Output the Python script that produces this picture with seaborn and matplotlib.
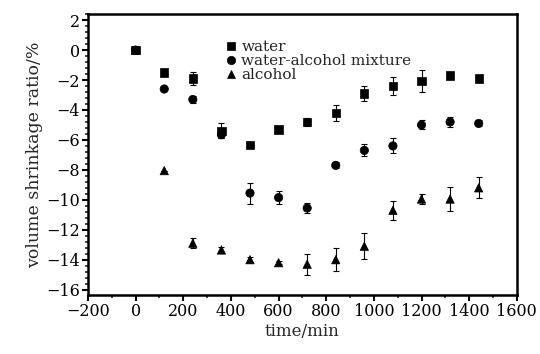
import numpy as np
import pandas as pd
import matplotlib
matplotlib.use("Agg")
import matplotlib.pyplot as plt
import seaborn as sns
from matplotlib.ticker import MultipleLocator

# --- data ---
time_min = [0, 120, 240, 360, 480, 600, 720, 840, 960, 1080, 1200, 1320, 1440]

water = [0, -1.5, -1.9, -5.4, -6.35, -5.3, -4.8, -4.2, -2.9, -2.4, -2.05, -1.7, -1.9]
water_err = [0, 0, 0.45, 0.5, 0.15, 0.25, 0.25, 0.55, 0.5, 0.6, 0.75, 0, 0.2]

mixture = [0, -2.6, -3.3, -5.65, -9.55, -9.85, -10.55, -7.7, -6.7, -6.4, -5.0, -4.8, -4.9]
mixture_err = [0, 0, 0.25, 0.2, 0.7, 0.45, 0.35, 0.2, 0.4, 0.5, 0.3, 0.35, 0.2]

alcohol = [0, -8.05, -12.9, -13.35, -14.0, -14.2, -14.3, -14.0, -13.1, -10.7, -9.95, -9.95, -9.2]
alcohol_err = [0, 0, 0.35, 0.2, 0.15, 0.1, 0.7, 0.75, 0.85, 0.65, 0.35, 0.8, 0.7]

series = {
    "water": (water, water_err, "s"),
    "water-alcohol mixture": (mixture, mixture_err, "o"),
    "alcohol": (alcohol, alcohol_err, "^"),
}

rows = []
for name, (vals, errs, _) in series.items():
    for t, v, e in zip(time_min, vals, errs):
        rows.append({"time": t, "ratio": v, "err": e, "sample": name})
df = pd.DataFrame(rows)

sns.set_theme(style="ticks")
plt.rcParams['font.family'] = ['DejaVu Serif']
plt.rcParams['axes.unicode_minus'] = True

fig, ax = plt.subplots(figsize=(5.4, 3.54), dpi=100)
fig.subplots_adjust(left=0.163, right=0.957, top=0.96, bottom=0.167)

# error bars first, markers on top
for name, (vals, errs, _) in series.items():
    ax.errorbar(time_min, vals, yerr=errs, fmt='none', ecolor='black',
                elinewidth=0.8, capsize=2, capthick=0.8, zorder=2)

sns.scatterplot(data=df, x="time", y="ratio", style="sample",
                markers={k: v[2] for k, v in series.items()},
                color="black", s=36, edgecolor="black", linewidth=0.5,
                ax=ax, zorder=3)

handles, labels = ax.get_legend_handles_labels()
ax.legend(handles, labels, loc="upper left", bbox_to_anchor=(0.29, 0.945),
          frameon=False, fontsize=11, handletextpad=0.2, labelspacing=0.0,
          borderpad=0.2, handlelength=1.0, markerscale=1.0)

ax.set_xlim(-200, 1600)
ax.set_ylim(-16.35, 2.4)
ax.xaxis.set_major_locator(MultipleLocator(200))
ax.xaxis.set_minor_locator(MultipleLocator(100))
ax.yaxis.set_major_locator(MultipleLocator(2))
ax.yaxis.set_minor_locator(MultipleLocator(0.4))

ax.tick_params(axis='both', which='major', direction='out', length=4, width=1.5,
               labelsize=11.5, colors='black', pad=2)
ax.tick_params(axis='both', which='minor', direction='out', length=2.5, width=1.2)

for sp in ax.spines.values():
    sp.set_linewidth(1.8)
    sp.set_color('black')

ax.set_xlabel("time/min", fontsize=12, labelpad=2)
ax.set_ylabel("volume shrinkage ratio/%", fontsize=12.5, labelpad=2)

plt.savefig("out.png", dpi=100)
